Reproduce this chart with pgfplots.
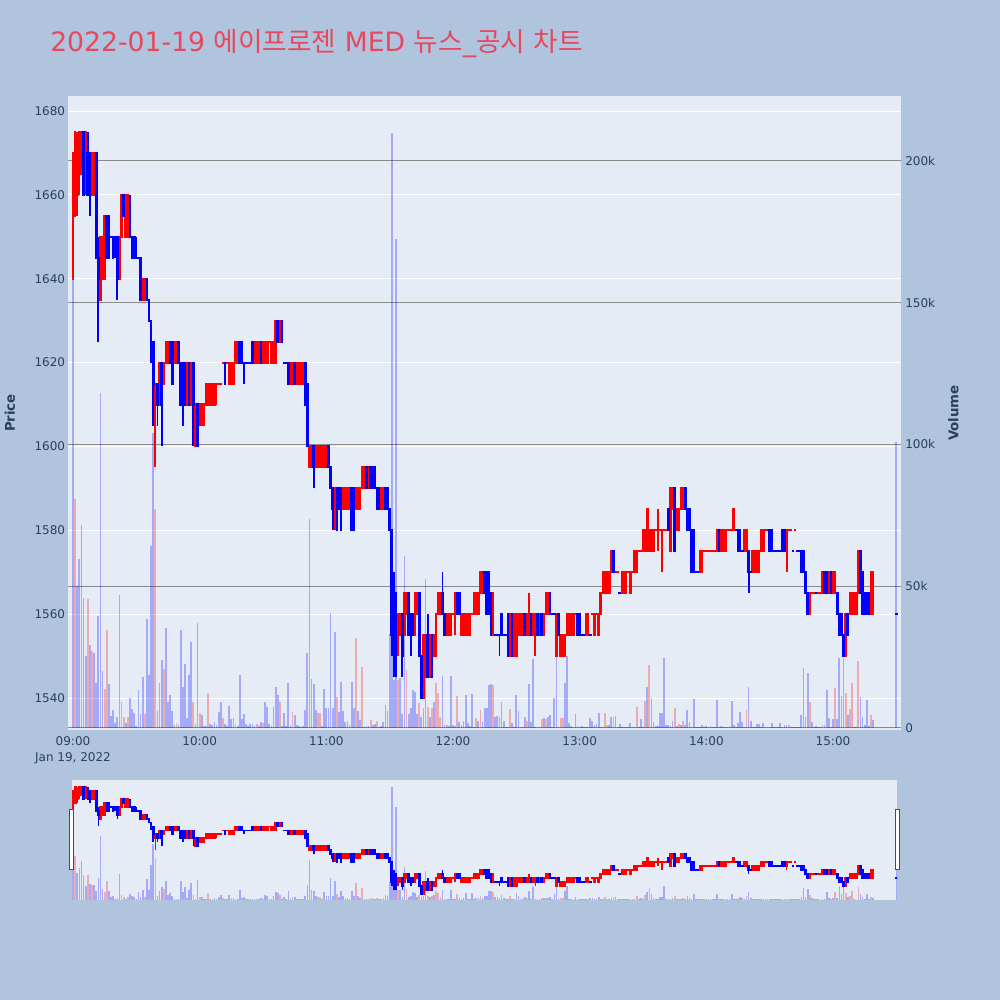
\documentclass[border=0pt]{standalone}
\usepackage{pgfplots}
\pgfplotsset{compat=1.18}
\usepackage{pgfplotstable}
\usepackage{fontspec}
\setmainfont{DejaVu Sans}
\newfontfamily\kr{Noto Sans CJK KR}
\definecolor{pagebg}{HTML}{B0C4DE}
\definecolor{plotbg}{HTML}{E5ECF6}
\definecolor{tickc}{HTML}{2A3F5F}
\definecolor{titlec}{HTML}{E8485E}
\definecolor{vgrid}{HTML}{8A8A8A}
\pgfplotstableread{
m o h l c d v w
0 1640 1670 1640 1670 1 159000 0
1 1655 1675 1655 1675 1 80700 1
2 1660 1675 1655 1670 1 50000 0
3 1665 1675 1660 1675 1 59500 0
4 1665 1675 1665 1675 1 71600 0
5 1675 1675 1660 1660 0 45800 0
6 1665 1675 1660 1675 1 25400 0
7 1670 1675 1660 1660 0 45400 1
8 1670 1670 1655 1660 0 29300 0
9 1660 1670 1660 1670 1 27000 1
10 1660 1670 1660 1670 1 26600 0
11 1670 1670 1645 1645 0 16000 0
12 1645 1650 1625 1640 0 39600 0
13 1635 1650 1635 1650 1 118000 0
14 1640 1650 1640 1650 1 20000 0
15 1640 1655 1640 1655 1 13900 1
16 1655 1655 1645 1645 0 34600 1
17 1655 1655 1645 1645 0 15400 0
18 1650 1650 1650 1650 0 4200 0
19 1650 1650 1645 1645 0 6400 0
20 1650 1650 1645 1650 0 1900 0
21 1650 1650 1635 1640 0 3800 0
22 1640 1650 1640 1650 1 47000 0
23 1650 1660 1650 1660 1 9300 1
24 1660 1660 1655 1655 0 4000 1
25 1650 1660 1650 1660 1 1600 0
26 1650 1660 1650 1660 1 4000 1
27 1655 1660 1650 1650 0 10700 0
28 1650 1650 1645 1645 0 6800 0
29 1650 1650 1645 1645 0 5400 0
30 1645 1650 1645 1645 0 700 0
31 1645 1645 1645 1645 0 13400 0
32 1645 1645 1635 1635 0 4800 0
33 1635 1640 1635 1640 1 17900 0
34 1635 1640 1635 1640 1 4900 1
35 1640 1640 1635 1635 0 38400 0
36 1635 1635 1630 1630 0 18700 0
37 1630 1630 1620 1625 0 64200 0
38 1625 1625 1605 1615 0 104000 0
39 1610 1615 1595 1615 1 77300 1
40 1615 1615 1605 1610 0 6100 0
41 1610 1620 1610 1620 1 16000 0
42 1620 1620 1600 1610 0 24000 0
43 1615 1620 1615 1620 1 20700 1
44 1620 1625 1620 1625 1 35200 0
45 1620 1625 1620 1625 1 9200 0
46 1625 1625 1620 1620 0 11600 0
47 1625 1625 1615 1615 0 6100 0
48 1620 1625 1620 1625 1 1000 1
49 1620 1625 1620 1625 1 1600 1
50 1625 1625 1620 1620 0 1000 0
51 1620 1620 1610 1610 0 34600 0
52 1620 1620 1605 1610 0 14400 0
53 1620 1620 1610 1610 0 22600 0
54 1610 1620 1610 1620 1 3600 0
55 1620 1620 1610 1610 0 18700 0
56 1610 1620 1610 1620 1 30500 0
57 1620 1620 1600 1610 0 9300 1
58 1600 1610 1600 1610 1 1400 0
59 1610 1610 1600 1600 0 37200 0
60 1605 1610 1605 1610 1 5200 1
61 1605 1610 1605 1610 1 4600 0
62 1605 1610 1605 1610 1 600 0
63 1610 1615 1610 1615 1 800 0
64 1610 1615 1610 1615 1 12500 1
65 1610 1615 1610 1615 1 1500 0
66 1610 1615 1610 1615 1 1000 0
67 1610 1615 1610 1615 1 2200 0
68 1615 1615 1610 1615 1 1000 0
69 1615 1615 1615 1615 1 5500 0
70 1615 1615 1615 1615 1 9000 0
71 1620 1620 1620 1620 1 3400 1
72 1620 1620 1615 1615 0 1500 0
73 1620 1620 1620 1620 1 800 0
74 1615 1620 1615 1620 1 7800 0
75 1615 1620 1615 1620 1 3000 0
76 1615 1620 1615 1620 1 3400 0
77 1620 1625 1620 1625 1 1300 1
78 1620 1625 1620 1625 1 800 0
79 1625 1625 1620 1620 0 18700 0
80 1625 1625 1620 1620 0 3000 0
81 1620 1620 1615 1620 0 4800 0
82 1620 1620 1620 1620 0 1300 0
83 1620 1620 1620 1620 0 600 0
84 1620 1620 1620 1620 0 1300 0
85 1625 1625 1620 1620 0 1300 0
86 1620 1625 1620 1625 1 600 0
87 1620 1625 1620 1625 1 1400 1
88 1620 1625 1620 1625 1 800 0
89 1625 1625 1620 1620 0 2200 0
90 1620 1625 1620 1625 1 1900 1
91 1620 1625 1620 1625 1 9300 0
92 1620 1625 1620 1625 1 7300 0
93 1625 1625 1625 1625 1 1300 0
94 1620 1625 1620 1625 1 600 0
95 1620 1625 1620 1625 1 7300 0
96 1620 1630 1620 1630 1 14600 0
97 1630 1630 1625 1625 0 11600 0
98 1625 1630 1625 1630 1 9300 1
99 1630 1630 1625 1625 0 800 0
100 1620 1620 1620 1620 0 5400 0
101 1620 1620 1620 1620 0 600 0
102 1620 1620 1615 1615 0 16000 0
103 1615 1620 1615 1620 1 1000 0
104 1615 1620 1615 1620 1 5800 1
105 1620 1620 1615 1615 0 4600 0
106 1615 1620 1615 1620 1 1000 0
107 1615 1620 1615 1620 1 600 0
108 1615 1620 1615 1620 1 400 0
109 1615 1620 1615 1620 1 600 0
110 1620 1620 1610 1610 0 6400 0
111 1615 1615 1600 1600 0 26400 0
112 1595 1600 1595 1600 1 73600 0
113 1595 1600 1595 1600 1 17200 0
114 1600 1600 1590 1595 0 15500 0
115 1595 1600 1595 1600 1 6400 0
116 1595 1600 1595 1600 1 5400 1
117 1595 1600 1595 1600 1 5400 1
118 1595 1600 1595 1600 1 800 0
119 1595 1600 1595 1600 1 13600 0
120 1595 1600 1595 1600 1 7000 0
121 1600 1600 1595 1595 0 7000 0
122 1595 1595 1590 1590 0 40500 0
123 1590 1590 1580 1585 0 7000 0
124 1585 1590 1580 1590 1 34000 0
125 1590 1590 1580 1580 0 11000 1
126 1590 1590 1585 1585 0 5800 0
127 1590 1590 1580 1580 0 16400 0
128 1585 1590 1585 1590 1 6000 0
129 1585 1590 1585 1590 1 2000 0
130 1585 1590 1585 1590 1 2500 0
131 1585 1590 1585 1590 1 1000 0
132 1590 1590 1580 1580 0 16400 0
133 1590 1590 1580 1580 0 7000 0
134 1585 1590 1585 1590 1 31600 1
135 1585 1590 1585 1590 1 6000 0
136 1585 1590 1585 1590 1 2800 0
137 1590 1595 1590 1595 1 21600 1
138 1590 1595 1590 1595 1 500 0
139 1595 1595 1590 1590 0 800 0
140 1590 1595 1590 1595 1 800 0
141 1595 1595 1590 1590 0 2800 1
142 1595 1595 1590 1590 0 1000 0
143 1595 1595 1590 1590 0 1400 0
144 1590 1590 1585 1585 0 2600 1
145 1590 1590 1585 1585 0 500 0
146 1585 1590 1585 1590 1 800 0
147 1585 1590 1585 1590 1 2200 0
148 1590 1590 1585 1585 0 8100 0
149 1590 1590 1585 1585 0 6000 0
150 1585 1585 1580 1580 0 33000 0
151 1580 1580 1550 1555 0 210000 0
152 1560 1570 1545 1550 0 17000 0
153 1565 1565 1545 1550 0 172500 0
154 1555 1560 1550 1560 1 17000 1
155 1555 1560 1555 1560 1 17500 0
156 1560 1560 1545 1550 0 5000 0
157 1555 1565 1555 1565 1 60700 0
158 1560 1565 1560 1565 1 20500 1
159 1565 1565 1555 1555 0 5000 0
160 1560 1560 1550 1555 0 7000 0
161 1560 1560 1555 1555 0 13400 0
162 1555 1565 1555 1565 1 12800 0
163 1560 1565 1560 1565 1 4800 0
164 1565 1565 1550 1550 0 8700 1
165 1550 1550 1540 1540 0 4000 0
166 1540 1555 1540 1555 1 7000 0
167 1545 1555 1545 1555 1 52500 0
168 1555 1560 1545 1545 0 7500 1
169 1545 1555 1545 1555 1 4000 0
170 1555 1555 1545 1545 0 7000 1
171 1550 1555 1550 1555 1 9300 0
172 1550 1560 1550 1560 1 15800 1
173 1560 1565 1560 1565 1 12200 1
174 1560 1565 1560 1565 1 4000 1
175 1565 1570 1560 1560 0 18400 0
176 1560 1560 1555 1555 0 1000 0
177 1555 1560 1555 1560 1 1000 1
178 1555 1560 1555 1560 1 800 0
179 1555 1560 1555 1560 1 18400 0
180 1560 1560 1560 1560 1 1000 0
181 1560 1565 1555 1565 1 600 0
182 1565 1565 1560 1560 0 11400 1
183 1565 1565 1560 1560 0 2200 0
184 1555 1560 1555 1560 1 1000 0
185 1555 1560 1555 1560 1 2600 0
186 1555 1560 1555 1560 1 11600 0
187 1555 1560 1555 1560 1 1600 0
188 1555 1560 1555 1560 1 700 0
189 1560 1560 1560 1560 1 12000 0
190 1560 1565 1560 1565 1 500 0
191 1560 1565 1560 1565 1 3600 1
192 1560 1565 1560 1565 1 2600 0
193 1565 1570 1565 1570 1 6400 1
194 1565 1570 1565 1570 1 2200 0
195 1570 1570 1565 1565 0 6900 0
196 1570 1570 1560 1560 0 6900 0
197 1570 1570 1560 1560 0 15300 0
198 1565 1565 1555 1555 0 15500 0
199 1555 1565 1555 1565 1 15000 1
200 1555 1555 1555 1555 0 4000 0
201 1555 1555 1555 1555 0 4200 0
202 1555 1555 1550 1555 0 3800 0
203 1560 1560 1555 1555 0 9000 0
204 1555 1555 1555 1555 0 2600 0
205 1555 1555 1555 1555 0 500 0
206 1560 1560 1550 1550 0 400 0
207 1550 1560 1550 1560 1 6600 1
208 1560 1560 1550 1550 0 1600 0
209 1550 1560 1550 1560 1 500 0
210 1550 1560 1550 1560 1 11600 0
211 1555 1560 1555 1560 1 6100 0
212 1555 1560 1555 1560 1 500 0
213 1555 1560 1555 1560 1 500 0
214 1560 1560 1555 1555 0 4000 0
215 1555 1560 1555 1560 1 2600 1
216 1555 1565 1555 1560 1 15500 0
217 1560 1560 1555 1555 0 2000 0
218 1555 1560 1555 1560 1 24200 0
219 1555 1560 1550 1560 1 500 0
220 1560 1560 1555 1555 0 400 1
221 1555 1560 1555 1560 1 400 0
222 1560 1560 1555 1555 0 3200 1
223 1555 1560 1555 1560 1 3400 0
224 1560 1565 1560 1565 1 3300 1
225 1560 1565 1560 1565 1 3800 0
226 1565 1565 1560 1560 0 4600 0
227 1560 1560 1560 1560 0 500 0
228 1560 1560 1560 1560 0 10500 0
229 1550 1560 1550 1560 1 29300 0
230 1560 1560 1555 1555 0 500 0
231 1550 1555 1550 1555 1 3600 1
232 1550 1555 1550 1555 1 3600 1
233 1550 1555 1550 1555 1 15800 0
234 1555 1560 1555 1560 1 25400 0
235 1555 1560 1555 1560 1 1600 0
236 1555 1560 1555 1560 1 800 0
237 1555 1560 1555 1560 1 300 1
238 1560 1560 1560 1560 1 4800 0
239 1560 1560 1555 1555 0 700 0
240 1560 1560 1555 1555 0 500 0
241 1555 1555 1555 1555 0 700 0
242 1555 1555 1555 1555 0 300 0
243 1555 1560 1555 1560 1 500 0
244 1555 1560 1555 1560 1 300 1
245 1555 1555 1555 1555 0 3700 0
246 1560 1560 1560 1560 1 2500 0
247 1555 1560 1555 1560 1 1000 0
248 1560 1560 1560 1560 1 1400 0
249 1555 1560 1555 1560 1 5200 0
250 1560 1565 1560 1565 1 300 0
251 1565 1570 1565 1570 1 300 1
252 1565 1570 1565 1570 1 5400 1
253 1565 1570 1565 1570 1 1000 1
254 1565 1570 1565 1570 1 1000 0
255 1570 1575 1570 1575 1 3800 0
256 1575 1575 1570 1570 0 4000 1
257 1570 1570 1570 1570 1 4200 0
258 1570 1570 1570 1570 1 500 0
259 1565 1565 1565 1565 0 1400 0
260 1565 1570 1565 1570 1 500 0
261 1565 1570 1565 1570 1 500 0
262 1565 1570 1565 1570 1 300 0
263 1570 1570 1570 1570 1 300 0
264 1565 1570 1565 1570 1 1900 0
265 1570 1570 1570 1570 1 300 0
266 1570 1575 1570 1575 1 300 0
267 1570 1575 1570 1575 1 7300 1
268 1575 1575 1575 1575 1 300 0
269 1575 1575 1575 1575 1 3000 0
270 1575 1580 1575 1580 1 500 0
271 1575 1580 1575 1580 1 9500 1
272 1575 1585 1575 1585 1 14600 0
273 1575 1580 1575 1580 1 22200 1
274 1575 1580 1575 1580 1 10500 0
275 1575 1580 1575 1580 1 2200 0
276 1580 1580 1580 1580 1 700 0
277 1580 1585 1575 1580 1 700 0
278 1580 1580 1580 1580 1 5200 0
279 1575 1580 1570 1580 1 5200 0
280 1580 1580 1580 1580 1 24600 0
281 1580 1580 1580 1580 1 1000 0
282 1585 1585 1580 1580 0 1000 0
283 1575 1590 1575 1590 1 700 0
284 1585 1590 1585 1590 1 2600 0
285 1590 1590 1575 1575 0 7200 1
286 1580 1585 1580 1585 1 800 0
287 1580 1585 1580 1585 1 1400 1
288 1585 1590 1585 1590 1 1000 0
289 1585 1590 1585 1590 1 2600 1
290 1590 1590 1585 1585 0 1000 0
291 1585 1585 1580 1580 0 6400 0
292 1585 1585 1580 1580 0 2200 0
293 1580 1580 1570 1570 0 500 0
294 1580 1580 1570 1570 0 10100 0
295 1570 1570 1570 1570 0 300 0
296 1570 1570 1570 1570 0 300 0
297 1570 1575 1570 1575 1 300 0
298 1570 1575 1570 1575 1 1000 0
299 1575 1575 1575 1575 1 300 0
300 1575 1575 1575 1575 1 700 0
301 1575 1575 1575 1575 1 300 0
302 1575 1575 1575 1575 1 700 0
303 1575 1575 1575 1575 1 300 0
304 1575 1575 1575 1575 1 500 0
305 1575 1580 1575 1580 1 9900 0
306 1580 1580 1575 1575 0 500 1
307 1575 1580 1575 1580 1 700 0
308 1575 1580 1575 1580 1 300 0
309 1575 1580 1575 1580 1 500 0
310 1580 1580 1580 1580 1 300 0
311 1580 1580 1580 1580 1 700 0
312 1580 1580 1580 1580 1 9600 0
313 1580 1585 1580 1585 1 1000 0
314 1580 1580 1580 1580 0 500 0
315 1580 1580 1575 1575 0 1600 0
316 1580 1580 1575 1575 0 5600 0
317 1575 1575 1575 1575 0 2200 0
318 1575 1580 1575 1580 1 300 0
319 1575 1580 1575 1580 1 6400 1
320 1575 1575 1565 1570 0 14400 0
321 1570 1570 1570 1570 0 2600 0
322 1570 1575 1570 1575 1 300 0
323 1570 1575 1570 1575 1 500 0
324 1570 1575 1570 1575 1 1400 0
325 1570 1575 1570 1575 1 1400 0
326 1575 1580 1575 1580 1 300 0
327 1575 1580 1575 1580 1 1600 0
328 1580 1580 1580 1580 1 500 1
329 1580 1580 1580 1580 1 300 1
330 1580 1580 1575 1575 0 500 0
331 1580 1580 1575 1575 0 1900 0
332 1575 1575 1575 1575 0 500 0
333 1575 1575 1575 1575 0 300 0
334 1575 1575 1575 1575 0 500 0
335 1575 1575 1575 1575 0 1600 0
336 1580 1580 1575 1575 0 500 0
337 1580 1580 1575 1575 0 1000 0
338 1575 1580 1570 1580 1 1000 0
339 1580 1580 1580 1580 1 1000 1
340 1580 1580 1580 1580 1 300 0
341 1575 1575 1575 1575 0 300 0
342 1580 1580 1580 1580 1 300 0
343 1575 1575 1575 1575 0 300 0
344 1575 1575 1575 1575 0 300 0
345 1575 1575 1570 1570 0 4600 0
346 1575 1575 1570 1570 0 21000 0
347 1570 1570 1565 1565 0 4000 0
348 1565 1565 1560 1560 0 19500 0
349 1560 1565 1560 1565 1 9000 1
350 1565 1565 1565 1565 1 2200 0
351 1565 1565 1565 1565 1 300 0
352 1565 1565 1565 1565 0 700 0
353 1565 1565 1565 1565 1 300 0
354 1565 1565 1565 1565 1 200 0
355 1565 1570 1565 1570 1 1000 1
356 1570 1570 1565 1565 0 1000 0
357 1570 1570 1565 1565 0 13400 0
358 1565 1570 1565 1570 1 3400 0
359 1570 1570 1565 1565 0 500 0
360 1565 1570 1565 1570 1 3000 0
361 1565 1570 1565 1570 1 14000 1
362 1565 1565 1560 1560 0 3300 0
363 1560 1560 1555 1555 0 24600 0
364 1560 1560 1555 1555 0 11300 0
365 1555 1555 1550 1550 0 24200 0
366 1550 1560 1550 1560 1 12200 1
367 1560 1560 1555 1555 0 4600 0
368 1560 1565 1560 1565 1 6600 1
369 1560 1565 1560 1565 1 15800 1
370 1560 1565 1560 1565 1 500 0
371 1560 1565 1560 1565 1 200 0
372 1565 1575 1565 1575 1 23800 1
373 1575 1575 1565 1565 0 10800 0
374 1570 1570 1560 1560 0 4000 0
375 1565 1565 1560 1560 0 1000 0
376 1565 1565 1560 1560 0 9900 0
377 1565 1565 1560 1560 0 700 0
378 1560 1570 1560 1570 1 4600 1
379 1560 1570 1560 1570 1 2800 0
390 1560 1560 1560 1560 0 101000 0
}\data
\pgfplotsset{
  base/.style={scale only axis, anchor=south west,
    axis line style={draw=none}, tick style={draw=none},
    ticklabel style={font=\fontsize{9}{11.7}\selectfont, text=tickc},
    /pgf/number format/assume math mode=true},
  mainbox/.style={base, at={(51pt,202.5pt)}, width=624.75pt, height=475.5pt,
    xmin=-2.37, xmax=392.2},
  slidebox/.style={base, at={(54pt,75pt)}, width=618.75pt, height=90pt,
    xmin=-0.5, xmax=390.3, xtick=\empty, ytick=\empty},
  pricey/.style={ymin=1532.37, ymax=1683.58},
  voly/.style={ymin=-705, ymax=222928, scaled y ticks=false},
}
\newcommand{\candles}[3]{%
  \addplot[draw=none, mark=none, forget plot,
    restrict expr to domain={\thisrow{d}}{0.5:1.5},
    error bars/.cd, y dir=both, y explicit, error mark=none,
    error bar style={draw=red, line width=#2}]
    table[x=m, y expr={(\thisrow{h}+\thisrow{l})/2}, y error expr={(\thisrow{h}-\thisrow{l})/2}] {\data};
  \addplot[draw=none, mark=none, forget plot,
    restrict expr to domain={\thisrow{d}}{0.5:1.5},
    error bars/.cd, y dir=both, y explicit, error mark=none,
    error bar style={draw=red, line width=#1}]
    table[x=m, y expr={(\thisrow{o}+\thisrow{c})/2}, y error expr={abs(\thisrow{c}-\thisrow{o})/2+#3}] {\data};
  \addplot[draw=none, mark=none, forget plot,
    restrict expr to domain={\thisrow{d}}{-0.5:0.5},
    error bars/.cd, y dir=both, y explicit, error mark=none,
    error bar style={draw=blue, line width=#2}]
    table[x=m, y expr={(\thisrow{h}+\thisrow{l})/2}, y error expr={(\thisrow{h}-\thisrow{l})/2}] {\data};
  \addplot[draw=none, mark=none, forget plot,
    restrict expr to domain={\thisrow{d}}{-0.5:0.5},
    error bars/.cd, y dir=both, y explicit, error mark=none,
    error bar style={draw=blue, line width=#1}]
    table[x=m, y expr={(\thisrow{o}+\thisrow{c})/2}, y error expr={abs(\thisrow{c}-\thisrow{o})/2+#3}] {\data};
}
\newcommand{\volbars}{%
  \addplot[ycomb, draw=blue, draw opacity=0.28, line width=1.3pt, mark=none, forget plot,
    restrict expr to domain={\thisrow{w}}{-0.5:0.5}] table[x=m, y=v] {\data};
  \addplot[ycomb, draw=red, draw opacity=0.28, line width=1.3pt, mark=none, forget plot,
    restrict expr to domain={\thisrow{w}}{0.5:1.5}] table[x=m, y=v] {\data};
}
\begin{document}
\begin{tikzpicture}
\fill[pagebg] (0,0) rectangle (750pt,750pt);
\useasboundingbox (0,0) rectangle (750pt,750pt);
% ---- main: price background, white grid, ticks
\begin{axis}[mainbox, pricey,
  axis background/.style={fill=plotbg},
  ytick={1540,1560,...,1680},
  yticklabels={1540,1560,1580,1600,1620,1640,1660,1680},
  ymajorgrids, major grid style={white, line width=0.75pt},
  yticklabel style={anchor=east, inner sep=0pt, xshift=-2pt},
  xtick={0,60,120,180,240,300,360},
  xticklabels={{09:00\\Jan 19, 2022},10:00,11:00,12:00,13:00,14:00,15:00},
  xticklabel style={align=center, anchor=north, inner sep=0pt, yshift=-5pt}]
\addplot[draw=none, mark=none, forget plot] coordinates {(0,1600)};
\end{axis}
% ---- main: volume grid, bars, right ticks
\begin{axis}[mainbox, voly,
  xtick=\empty,
  axis y line*=right,
  ytick={50000,100000,150000,200000},
  yticklabels={50k,100k,150k,200k},
  extra y ticks={0}, extra y tick labels={0},
  extra y tick style={grid style={white, line width=1.5pt}},
  ymajorgrids, major grid style={vgrid, line width=0.75pt},
  yticklabel style={anchor=west, inner sep=0pt, xshift=3pt}]
\volbars
\end{axis}
% ---- main: candles
\begin{axis}[mainbox, pricey, xtick=\empty, ytick=\empty]
\candles{2.0pt}{1.4pt}{0.24}
\end{axis}
% ---- range slider
\begin{axis}[slidebox, voly, axis background/.style={fill=plotbg}]
\volbars
\end{axis}
\begin{axis}[slidebox, pricey]
\candles{2.0pt}{1.2pt}{1.2}
\end{axis}
\draw[fill=white, draw=black!70, line width=0.75pt] (51.75pt,97.5pt) rectangle (54.75pt,142.5pt);
\draw[fill=white, draw=black!70, line width=0.75pt] (671.25pt,97.5pt) rectangle (674.25pt,142.5pt);
% ---- titles
\node[anchor=base west, text=titlec, inner sep=0pt, font=\fontsize{20}{20}\selectfont]
  at (37.5pt,711pt) {2022-01-19 {\kr 에이프로젠} MED {\kr 뉴스}\_{\kr 공시} {\kr 차트}};
\node[rotate=90, text=tickc, font=\bfseries\fontsize{10}{12}\selectfont] at (7.5pt,440.25pt) {Price};
\node[rotate=90, text=tickc, font=\bfseries\fontsize{10}{12}\selectfont] at (715pt,440.25pt) {Volume};
\end{tikzpicture}
\end{document}
